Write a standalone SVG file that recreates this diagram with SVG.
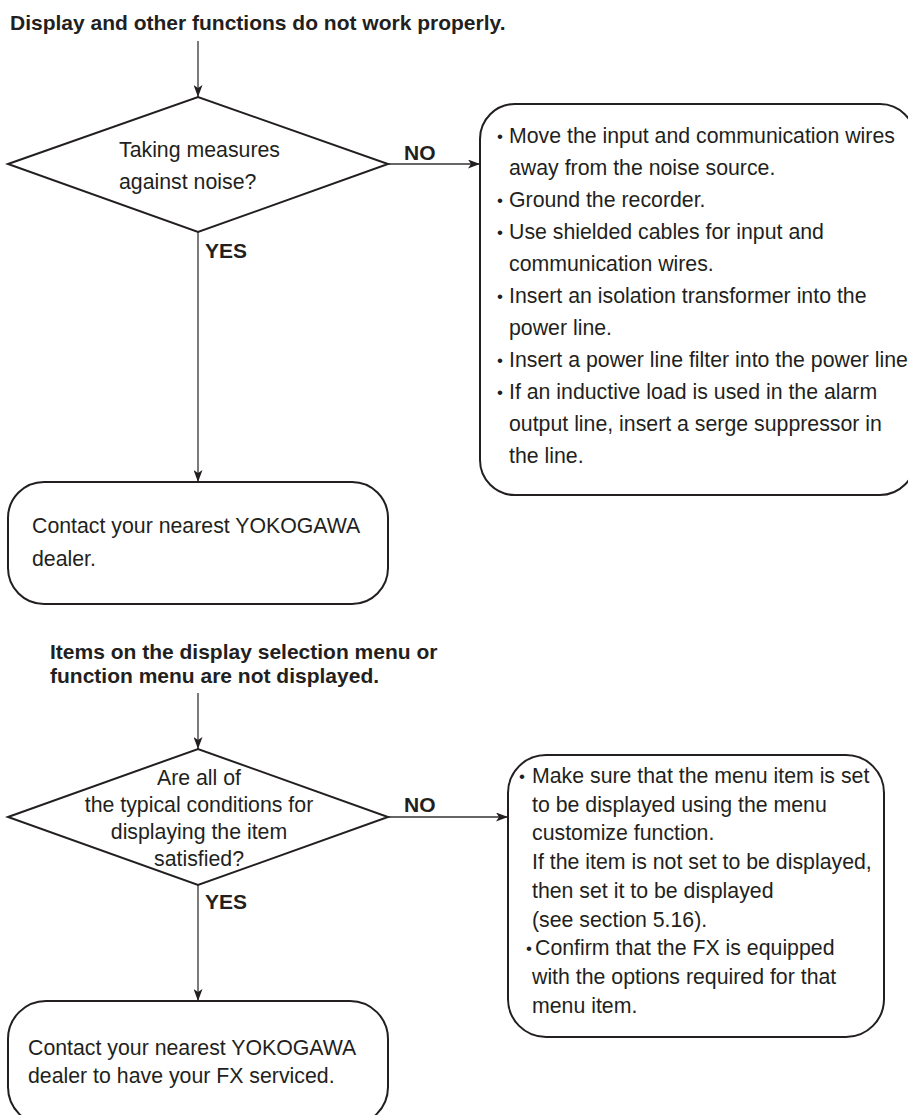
<svg xmlns="http://www.w3.org/2000/svg" width="908" height="1115" viewBox="0 0 908 1115">
<defs>
<style>
text{font-family:"Liberation Sans",Arial,sans-serif;font-size:21.3px;fill:#231f20}
.b{font-weight:bold;font-size:21px}
.c{text-anchor:middle}
.bl{font-size:17px}
.shape{fill:#fff;stroke:#231f20;stroke-width:2}
.conn{stroke:#333;stroke-width:1.3;fill:none;marker-end:url(#ah)}
</style>
<marker id="ah" markerUnits="userSpaceOnUse" markerWidth="12" markerHeight="9" refX="12" refY="4.5" orient="auto">
<path d="M0,0 L12,4.5 L0,9 L3,4.5 Z" fill="#231f20"/>
</marker>
</defs>
<rect width="908" height="1115" fill="#fff"/>

<g id="connectors">
<line class="conn" x1="198" y1="41" x2="198" y2="97"/>
<line class="conn" x1="388" y1="164" x2="480" y2="164"/>
<line class="conn" x1="198" y1="232" x2="198" y2="482"/>
<line class="conn" x1="198" y1="693" x2="198" y2="749"/>
<line class="conn" x1="388" y1="817" x2="508" y2="817"/>
<line class="conn" x1="198" y1="885" x2="198" y2="1001"/>
<text class="b" x="404" y="160">NO</text>
<text class="b" x="205" y="258">YES</text>
<text class="b" x="404" y="812">NO</text>
<text class="b" x="205" y="909">YES</text>
</g>

<g id="title1">
<text class="b" x="10" y="30">Display and other functions do not work properly.</text>
</g>

<g id="decision1">
<polygon class="shape" points="8,164 198,97 388,164 198,232"/>
<text x="119" y="157">Taking measures</text>
<text x="119" y="189">against noise?</text>
</g>

<g id="action1">
<rect class="shape" x="480" y="104" width="435" height="391" rx="35" ry="35"/>
<text class="bl" x="497" y="142">•</text><text x="509" y="143">Move the input and communication wires</text>
<text x="509" y="175">away from the noise source.</text>
<text class="bl" x="497" y="206">•</text><text x="509" y="207">Ground the recorder.</text>
<text class="bl" x="497" y="238">•</text><text x="509" y="239">Use shielded cables for input and</text>
<text x="509" y="271">communication wires.</text>
<text class="bl" x="497" y="302">•</text><text x="509" y="303">Insert an isolation transformer into the</text>
<text x="509" y="335">power line.</text>
<text class="bl" x="497" y="366">•</text><text x="509" y="367">Insert a power line filter into the power line</text>
<text class="bl" x="497" y="398">•</text><text x="509" y="399">If an inductive load is used in the alarm</text>
<text x="509" y="431">output line, insert a serge suppressor in</text>
<text x="509" y="463">the line.</text>
</g>

<g id="contact1">
<rect class="shape" x="8" y="482" width="380" height="122" rx="36" ry="36"/>
<text x="32" y="533">Contact your nearest YOKOGAWA</text>
<text x="32" y="566">dealer.</text>
</g>

<g id="title2">
<text class="b" x="50" y="659">Items on the display selection menu or</text>
<text class="b" x="50" y="683">function menu are not displayed.</text>
</g>

<g id="decision2">
<polygon class="shape" points="8,817 198,749 388,817 198,885"/>
<text class="c" x="199" y="785">Are all of</text>
<text class="c" x="199" y="812">the typical conditions for</text>
<text class="c" x="199" y="839">displaying the item</text>
<text class="c" x="199" y="866">satisfied?</text>
</g>

<g id="action2">
<rect class="shape" x="508" y="755" width="376" height="282" rx="38" ry="38"/>
<text class="bl" x="519" y="782">•</text><text x="532" y="783">Make sure that the menu item is set</text>
<text x="532" y="812">to be displayed using the menu</text>
<text x="532" y="840">customize function.</text>
<text x="532" y="869">If the item is not set to be displayed,</text>
<text x="532" y="898">then set it to be displayed</text>
<text x="532" y="927">(see section 5.16).</text>
<text class="bl" x="526" y="954">•</text><text x="535" y="955">Confirm that the FX is equipped</text>
<text x="532" y="984">with the options required for that</text>
<text x="532" y="1013">menu item.</text>
</g>

<g id="contact2">
<rect class="shape" x="8" y="1001" width="380" height="124" rx="38" ry="38"/>
<text x="28" y="1055">Contact your nearest YOKOGAWA</text>
<text x="28" y="1083">dealer to have your FX serviced.</text>
</g>
</svg>
